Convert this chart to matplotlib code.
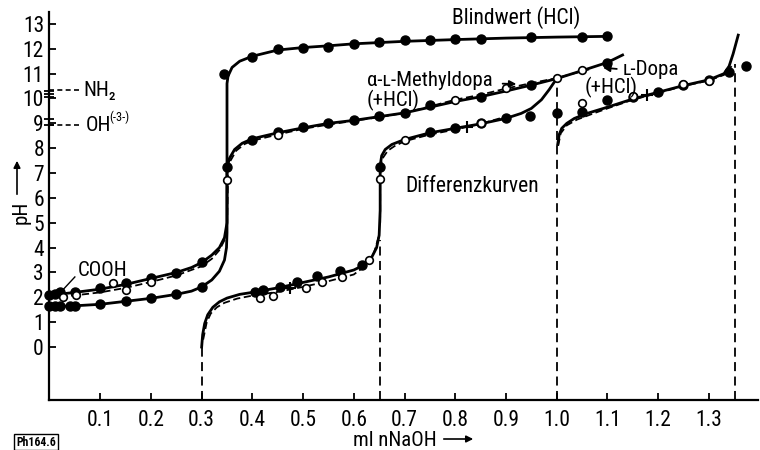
import matplotlib.pyplot as plt

plt.rcParams['font.family'] = ['Roboto Condensed', 'Liberation Sans Narrow',
                               'Liberation Sans', 'DejaVu Sans']

# Blindwert (HCl): Titrationskurve
blank_x = [0.0, 0.05, 0.1, 0.15, 0.2, 0.25, 0.28, 0.3, 0.32, 0.335, 0.345, 0.349, 0.35,
           0.35, 0.352, 0.36, 0.375, 0.4, 0.45, 0.5, 0.55, 0.6, 0.7, 0.8, 0.9, 1.0, 1.1]
blank_ph = [1.62, 1.66, 1.72, 1.84, 1.96, 2.12, 2.25, 2.42, 2.7, 3.05, 3.5, 4.0, 4.6,
            10.6, 10.9, 11.25, 11.5, 11.7, 11.95, 12.05, 12.12, 12.2, 12.3, 12.37, 12.43, 12.47, 12.5]
blank_pts_x = [0.0, 0.01, 0.02, 0.04, 0.05, 0.1, 0.15, 0.2, 0.25, 0.3,
               0.345, 0.4, 0.45, 0.5, 0.55, 0.6, 0.65, 0.7, 0.75, 0.8, 0.85, 0.95, 1.05, 1.1]
blank_pts_ph = [1.64, 1.64, 1.64, 1.65, 1.66, 1.73, 1.86, 1.96, 2.13, 2.43,
                11.0, 11.67, 11.98, 12.02, 12.08, 12.2, 12.27, 12.35, 12.35, 12.39, 12.39, 12.46, 12.49, 12.5]

# alpha-L-Methyldopa (+HCl), durchgezogen
mdopa_x = [0.0, 0.05, 0.1, 0.15, 0.2, 0.25, 0.28, 0.3, 0.32, 0.335, 0.345, 0.35,
           0.35, 0.355, 0.365, 0.38, 0.4, 0.45, 0.5, 0.55, 0.6, 0.65, 0.7, 0.75, 0.8,
           0.85, 0.9, 0.95, 1.0, 1.05, 1.1, 1.13]
mdopa_ph = [2.08, 2.2, 2.33, 2.52, 2.76, 3.0, 3.2, 3.4, 3.7, 4.0, 4.4, 5.0,
            7.2, 7.6, 7.95, 8.2, 8.38, 8.62, 8.82, 9.0, 9.12, 9.27, 9.42, 9.65, 9.88,
            10.07, 10.3, 10.54, 10.8, 11.12, 11.45, 11.75]
mdopa_pts_x = [0.0, 0.01, 0.02, 0.05, 0.1, 0.15, 0.2, 0.25, 0.3, 0.35, 0.4, 0.45, 0.5,
               0.55, 0.6, 0.65, 0.7, 0.75, 0.85, 0.95, 1.1]
mdopa_pts_ph = [2.09, 2.15, 2.2, 2.23, 2.36, 2.56, 2.79, 2.99, 3.41, 7.26, 8.33, 8.66, 8.87,
                9.03, 9.13, 9.3, 9.4, 9.72, 10.07, 10.54, 11.42]

# L-Dopa (+HCl), gestrichelt
ldopa_x = [0.0, 0.05, 0.1, 0.15, 0.2, 0.25, 0.3, 0.32, 0.335, 0.345, 0.35,
           0.352, 0.357, 0.368, 0.385, 0.4, 0.45, 0.5, 0.55, 0.6, 0.65, 0.7, 0.75,
           0.8, 0.85, 0.9, 0.95, 1.0, 1.05, 1.07]
ldopa_ph = [2.0, 2.08, 2.2, 2.38, 2.62, 2.88, 3.25, 3.55, 3.9, 4.3, 4.8,
            7.0, 7.5, 7.9, 8.17, 8.3, 8.55, 8.78, 8.95, 9.1, 9.25, 9.42, 9.68,
            9.95, 10.15, 10.4, 10.62, 10.82, 11.1, 11.2]
ldopa_pts_x = [0.026, 0.053, 0.126, 0.151, 0.2, 0.35, 0.45, 0.8, 0.9, 1.0, 1.05]
ldopa_pts_ph = [2.02, 2.09, 2.56, 2.29, 2.63, 6.72, 8.55, 9.94, 10.41, 10.81, 11.15]

# Differenzkurven (Substanz minus Blindwert)
diff1_x = [0.3, 0.302, 0.306, 0.312, 0.322, 0.335, 0.35, 0.375, 0.4, 0.45, 0.5, 0.55,
           0.6, 0.62, 0.635, 0.645, 0.65, 0.652,
           0.652, 0.655, 0.662, 0.675, 0.7, 0.75, 0.8, 0.85, 0.9, 0.93, 0.95, 0.97,
           0.985, 1.0]
diff1_ph = [0.0, 0.5, 0.95, 1.3, 1.6, 1.82, 1.97, 2.12, 2.2, 2.38, 2.6, 2.82,
            3.1, 3.3, 3.6, 4.0, 4.5, 5.5,
            7.3, 7.7, 7.95, 8.15, 8.35, 8.62, 8.8, 8.98, 9.2, 9.4, 9.6, 9.95,
            10.35, 10.8]
diff2_x = [1.002, 1.005, 1.01, 1.02, 1.035, 1.06, 1.1, 1.15, 1.2, 1.25, 1.3, 1.33,
           1.34, 1.348, 1.358]
diff2_ph = [8.15, 8.55, 8.8, 9.0, 9.2, 9.4, 9.65, 9.98, 10.25, 10.52, 10.75, 11.0,
            11.3, 11.8, 12.55]
diff1_dash_x = [0.303, 0.31, 0.318, 0.33, 0.345, 0.37, 0.4, 0.45, 0.5, 0.55, 0.6,
                0.625, 0.64, 0.65]
diff1_dash_ph = [0.3, 1.0, 1.35, 1.6, 1.78, 1.95, 2.07, 2.22, 2.42, 2.65, 2.92,
                 3.3, 3.8, 4.5]
diff2_dash_x = [0.652, 0.652, 0.657, 0.667, 0.68, 0.7, 0.75, 0.8, 0.85, 0.9]
diff2_dash_ph = [5.0, 7.2, 7.6, 7.9, 8.08, 8.28, 8.55, 8.75, 8.98, 9.27]
diff3_dash_x = [1.003, 1.008, 1.02, 1.04, 1.07, 1.1, 1.15, 1.2, 1.25, 1.3, 1.33, 1.345]
diff3_dash_ph = [8.1, 8.6, 8.92, 9.15, 9.38, 9.6, 9.95, 10.22, 10.5, 10.72, 10.95, 11.3]

diff_pts_x = [0.405, 0.42, 0.454, 0.488, 0.527, 0.573, 0.616, 0.652, 0.75, 0.8, 0.85,
              0.9, 1.05, 1.1, 1.15, 1.2, 1.25, 1.3, 1.34]
diff_pts_ph = [2.23, 2.3, 2.4, 2.63, 2.86, 3.08, 3.3, 7.26, 8.66, 8.8, 9.0,
               9.2, 9.47, 9.94, 10.07, 10.28, 10.55, 10.74, 11.05]
diff_open_x = [0.415, 0.44, 0.505, 0.537, 0.577, 0.629, 0.652, 0.7, 0.85, 1.05, 1.15,
               1.25, 1.3]
diff_open_ph = [1.96, 2.07, 2.36, 2.63, 2.8, 3.5, 6.75, 8.33, 9.02, 9.8, 10.1,
                10.6, 10.72]
single_x = [0.948, 1.0, 1.374]
single_ph = [9.3, 9.42, 11.32]
plus_x = [0.474, 0.823, 1.178]
plus_ph = [2.36, 8.87, 10.14]

# Äquivalenzpunkte (gestrichelte Senkrechten)
eq_x = [0.3, 0.652, 1.0, 1.352]
eq_top = [0.0, 4.3, 10.9, 11.4]

# pK-Markierungen an der pH-Achse
pk_nh2 = [10.05, 10.17, 10.3]
pk_oh = [8.93, 9.16]

x_ticks = [0.1, 0.2, 0.3, 0.4, 0.5, 0.6, 0.7, 0.8, 0.9, 1.0, 1.1, 1.2, 1.3]
y_ticks = list(range(0, 14))

fig = plt.figure(figsize=(7.6, 4.5), dpi=100)
ax = fig.add_axes([49.5 / 760, 50 / 450, 708.5 / 760, 388 / 450])
ax.set_xlim(0, 1.397)
ax.set_ylim(-2.13, 13.48)

for s in ['top', 'right']:
    ax.spines[s].set_visible(False)
for s in ['left', 'bottom']:
    ax.spines[s].set_linewidth(1.6)

ax.set_xticks(x_ticks)
ax.set_xticklabels(['%.1f' % v for v in x_ticks])
ax.set_yticks(y_ticks)
ax.tick_params(direction='in', length=5, width=1.3, labelsize=15.5, colors='black')
ax.tick_params(axis='x', pad=7)
ax.tick_params(axis='y', pad=4)

lw = 2.0
ax.plot(blank_x, blank_ph, color='black', lw=lw)
ax.plot(mdopa_x, mdopa_ph, color='black', lw=lw)
ax.plot(ldopa_x, ldopa_ph, color='black', lw=1.3, ls=(0, (4, 2)))
ax.plot(diff1_x, diff1_ph, color='black', lw=lw)
ax.plot(diff2_x, diff2_ph, color='black', lw=lw)
for xs, ys in [(diff1_dash_x, diff1_dash_ph), (diff2_dash_x, diff2_dash_ph),
               (diff3_dash_x, diff3_dash_ph)]:
    ax.plot(xs, ys, color='black', lw=1.3, ls=(0, (4, 2)))

for x, top in zip(eq_x, eq_top):
    ax.plot([x, x], [-2.13, top], color='black', lw=1.3, ls=(0, (5, 3)))

filled = dict(ls='none', marker='o', ms=6.5, mfc='black', mec='black')
hollow = dict(ls='none', marker='o', ms=5.5, mfc='white', mec='black', mew=1.2)
ax.plot(blank_pts_x, blank_pts_ph, **filled, clip_on=False)
ax.plot(mdopa_pts_x, mdopa_pts_ph, **filled, clip_on=False)
ax.plot(diff_pts_x, diff_pts_ph, **filled)
ax.plot(single_x, single_ph, **filled)
ax.plot(ldopa_pts_x, ldopa_pts_ph, **hollow, zorder=3)
ax.plot(diff_open_x, diff_open_ph, **hollow, zorder=3)
ax.plot(plus_x, plus_ph, ls='none', marker='+', ms=9, mew=1.5, color='black')

ax.plot([0] * len(pk_nh2), pk_nh2, ls='none', marker='_', ms=7, mew=1.3,
        color='black', clip_on=False)
ax.plot([0] * len(pk_oh), pk_oh, ls='none', marker='_', ms=7, mew=1.3,
        color='black', clip_on=False)

fs = 15
ax.text(0.794, 13.24, 'Blindwert (HCl)', fontsize=15.5, ha='left', va='center')
ax.text(0.626, 10.74, 'α-ʟ-Methyldopa', fontsize=fs, ha='left', va='center')
ax.text(0.626, 9.93, '(+HCl)', fontsize=fs, ha='left', va='center')
ax.annotate('', xy=(0.926, 10.58), xytext=(0.888, 10.6),
            arrowprops=dict(arrowstyle='-|>', color='black', lw=1.3, mutation_scale=10))
ax.text(1.131, 11.15, 'ʟ-Dopa', fontsize=fs, ha='left', va='center')
ax.text(1.056, 10.44, '(+HCl)', fontsize=fs, ha='left', va='center')
ax.annotate('', xy=(1.086, 11.25), xytext=(1.124, 11.18),
            arrowprops=dict(arrowstyle='-|>', color='black', lw=1.3, mutation_scale=10))
ax.text(0.701, 6.44, 'Differenzkurven', fontsize=15.5, ha='left', va='center')
ax.text(0.056, 3.1, 'COOH', fontsize=fs, ha='left', va='center')
ax.plot([0.05, 0.024], [2.82, 2.25], color='black', lw=1.0)

ax.plot([0.0, 0.06], [10.34, 10.34], color='black', lw=1.2, ls=(0, (3, 2)), clip_on=False)
ax.text(0.066, 10.34, 'NH₂', fontsize=fs, ha='left', va='center')
ax.plot([0.0, 0.064], [8.93, 8.93], color='black', lw=1.2, ls=(0, (3, 2)), clip_on=False)
ax.text(0.072, 8.93, 'OH', fontsize=fs, ha='left', va='center')
ax.text(0.118, 9.26, '(-3-)', fontsize=9, ha='left', va='center')

# Achsenbeschriftungen mit Pfeilen
fig.text(353 / 760, 1 - 440 / 450, 'ml nNaOH', fontsize=fs, ha='left', va='center')
ax.annotate('', xy=(476 / 760, 1 - 439 / 450), xytext=(441 / 760, 1 - 439 / 450),
            xycoords='figure fraction', textcoords='figure fraction',
            arrowprops=dict(arrowstyle='-|>', color='black', lw=1.2, mutation_scale=10))
fig.text(21 / 760, 1 - 212 / 450, 'pH', fontsize=fs, rotation=90, ha='center', va='center')
ax.annotate('', xy=(17 / 760, 1 - 158 / 450), xytext=(17 / 760, 1 - 197 / 450),
            xycoords='figure fraction', textcoords='figure fraction',
            arrowprops=dict(arrowstyle='-|>', color='black', lw=1.2, mutation_scale=10))

fig.text(36 / 760, 1 - 442 / 450, 'Ph164.6', fontsize=8.5, fontweight='bold',
         ha='center', va='center',
         bbox=dict(boxstyle='square,pad=0.15', fc='white', ec='black', lw=1.0))

fig.savefig('out.png', dpi=100)
